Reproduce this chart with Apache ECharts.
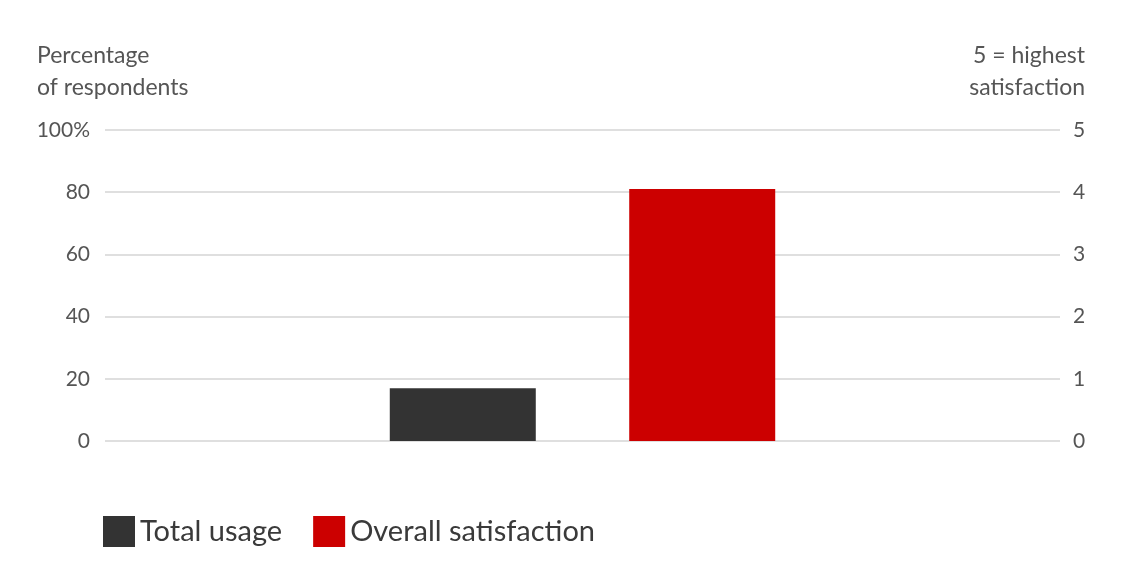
<!DOCTYPE html>
<html>
<head>
<meta charset="utf-8">
<script src="https://cdn.jsdelivr.net/npm/echarts@6/dist/echarts.min.js"></script>
<style>
html,body{margin:0;padding:0;background:#fff;}
#chart{width:1125px;height:568px;}
</style>
</head>
<body>
<div id="chart"></div>
<script>
const categories = [''];
const seriesNames = ['Total usage', 'Overall satisfaction'];
const totalUsage = [17];            // percentage of respondents (left axis)
const overallSatisfaction = [4.05]; // score 1-5 (right axis)
const leftAxisTitle = 'Percentage\nof respondents';
const rightAxisTitle = '5 = highest\nsatisfaction';

const FONT = 'Lato, "Open Sans", sans-serif';
const chart = echarts.init(document.getElementById('chart'));
chart.setOption({
  backgroundColor: '#ffffff',
  animation: false,
  grid: {left: 105, right: 65, top: 130, bottom: 127, containLabel: false},
  legend: {
    left: 98, top: 511,
    itemWidth: 32, itemHeight: 31, itemGap: 31,
    icon: 'rect',
    textStyle: {fontFamily: FONT, fontSize: 29, color: '#3a3a3a'},
    data: seriesNames
  },
  xAxis: {
    type: 'category', data: categories,
    axisLine: {show: false}, axisTick: {show: false}, axisLabel: {show: false}
  },
  yAxis: [
    {
      type: 'value', min: 0, max: 100, interval: 20, position: 'left',
      name: leftAxisTitle, nameLocation: 'end', nameGap: 26,
      nameTextStyle: {fontFamily: FONT, fontSize: 23, color: '#555', align: 'left', lineHeight: 32, padding: [0, 0, 0, -68]},
      axisLine: {show: false}, axisTick: {show: false},
      axisLabel: {fontFamily: FONT, fontSize: 21, color: '#555', margin: 15,
        formatter: v => v === 100 ? '100%' : String(v)},
      splitLine: {lineStyle: {color: '#d4d4d4', width: 1.5}}
    },
    {
      type: 'value', min: 0, max: 5, interval: 1, position: 'right',
      name: rightAxisTitle, nameLocation: 'end', nameGap: 26,
      nameTextStyle: {fontFamily: FONT, fontSize: 23, color: '#555', align: 'right', lineHeight: 32, padding: [0, -25, 0, 0]},
      axisLine: {show: false}, axisTick: {show: false},
      axisLabel: {fontFamily: FONT, fontSize: 21, color: '#555', margin: 13},
      splitLine: {show: false}
    }
  ],
  series: [
    {name: seriesNames[0], type: 'bar', yAxisIndex: 0, data: totalUsage,
      barWidth: 146, barGap: '64%', itemStyle: {color: '#333333'}},
    {name: seriesNames[1], type: 'bar', yAxisIndex: 1, data: overallSatisfaction,
      barWidth: 146, barGap: '64%', itemStyle: {color: '#cc0000'}}
  ]
});
</script>
</body>
</html>
